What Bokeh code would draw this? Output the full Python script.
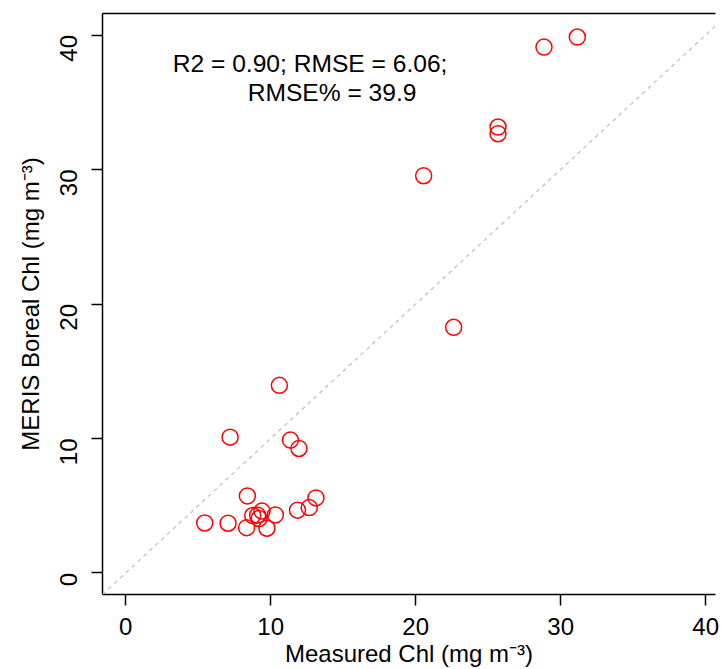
import math
from bokeh.plotting import figure
from bokeh.models import LinearAxis, FixedTicker, Label, Slope, Range1d
from bokeh.embed import file_html
from bokeh.resources import INLINE

# ---- data ----
measured_chl = [31.15, 28.85, 25.68, 25.68, 20.55, 22.62, 10.6, 7.2, 11.36, 11.95,
                8.39, 13.12, 12.66, 11.85, 10.32, 9.4, 8.76, 9.1, 9.2, 5.45,
                7.06, 8.34, 9.74]
meris_chl = [39.85, 39.1, 33.16, 32.66, 29.54, 18.27, 13.95, 10.1, 9.88, 9.26,
             5.73, 5.58, 4.86, 4.67, 4.32, 4.6, 4.27, 4.3, 4.05, 3.72,
             3.7, 3.37, 3.33]
tick_values = [0, 10, 20, 30, 40]
stats_line1 = "R2 = 0.90; RMSE = 6.06;"
stats_line2 = "RMSE% = 39.9"

FONT = "Liberation Sans"
FS = "24px"

p = figure(
    output_backend="svg", toolbar_location=None,
    frame_width=613, frame_height=581,
    min_border_left=102, min_border_right=6, min_border_top=13, min_border_bottom=70,
    x_range=Range1d(-1.6, 40.68), y_range=Range1d(-1.6, 41.6),
    x_axis_type=None, y_axis_type=None,
)
p.outline_line_color = None
p.outline_line_alpha = 0
p.xgrid.visible = False
p.ygrid.visible = False
p.background_fill_color = "white"
p.border_fill_color = "white"


def style_axis(ax, label):
    ax.ticker = FixedTicker(ticks=tick_values)
    ax.axis_label = label
    ax.axis_label_text_font = FONT
    ax.axis_label_text_font_size = FS
    ax.axis_label_text_font_style = "normal"
    ax.axis_label_text_color = "black"
    ax.major_label_text_font = FONT
    ax.major_label_text_font_size = FS
    ax.major_label_text_color = "black"
    ax.axis_line_color = "black"
    ax.axis_line_width = 1.5
    ax.major_tick_line_color = "black"
    ax.major_tick_line_width = 1.5
    ax.major_tick_in = 0
    ax.major_tick_out = 11
    ax.minor_tick_line_color = None
    ax.major_label_standoff = 12


xaxis = LinearAxis()
style_axis(xaxis, "Measured Chl (mg m\u207b\u00b3)")
xaxis.axis_label_standoff = 2
p.add_layout(xaxis, "below")

yaxis = LinearAxis()
style_axis(yaxis, "MERIS Boreal Chl (mg m\u207b\u00b3)")
yaxis.major_label_orientation = math.pi / 2
yaxis.major_label_standoff = 23
yaxis.axis_label_standoff = 5
p.add_layout(yaxis, "left")

top = LinearAxis(ticker=FixedTicker(ticks=[]))
top.axis_line_color = "black"
top.axis_line_width = 1.5
top.major_tick_line_color = None
top.minor_tick_line_color = None
top.major_label_text_font_size = "0px"
p.add_layout(top, "above")

# 1:1 line
p.add_layout(Slope(gradient=1, y_intercept=0, line_color="#BEBEBE",
                   line_dash="4 4", line_width=1.2))

p.scatter(measured_chl, meris_chl, marker="circle", size=16,
          fill_color=None, line_color="red", line_width=1.5)

p.add_layout(Label(x=3.24, y=37.9, text=stats_line1, text_font=FONT,
                   text_font_size="24.6px", text_color="black",
                   text_align="left", text_baseline="middle"))
p.add_layout(Label(x=8.41, y=35.76, text=stats_line2, text_font=FONT,
                   text_font_size="24.6px", text_color="black",
                   text_align="left", text_baseline="middle"))

open("out.html", "w").write(file_html(p, INLINE))
